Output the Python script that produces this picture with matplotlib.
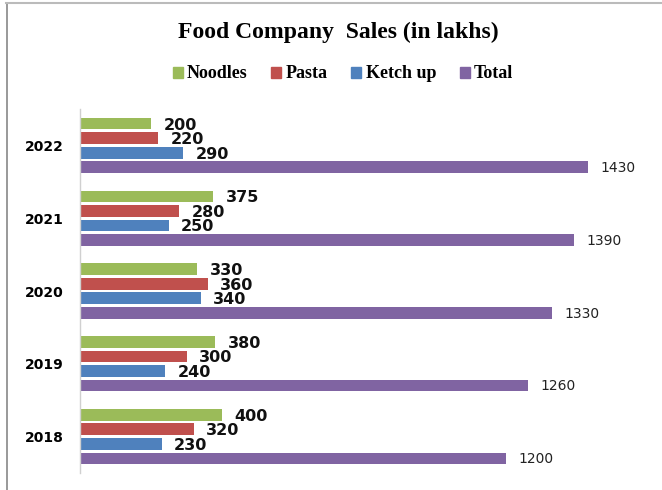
import matplotlib
matplotlib.use("Agg")
import matplotlib.pyplot as plt
from matplotlib.lines import Line2D
from matplotlib.patches import Patch
import numpy as np

years = ["2018", "2019", "2020", "2021", "2022"]
series = ["Noodles", "Pasta", "Ketch up", "Total"]
noodles = [400, 380, 330, 375, 200]
pasta = [320, 300, 360, 280, 220]
ketchup = [230, 240, 340, 250, 290]
total = [1200, 1260, 1330, 1390, 1430]
colors = ["#9BBB59", "#C0504D", "#4F81BD", "#8064A2"]

W, H = 662, 490
fig = plt.figure(figsize=(W / 100, H / 100), dpi=100)

# axes placement in pixels
ax_left, ax_right = 80, 650
ax_top, ax_bottom = 109, 473
ax = fig.add_axes([ax_left / W, 1 - ax_bottom / H, (ax_right - ax_left) / W, (ax_bottom - ax_top) / H])

px_per_unit = 0.3552
ax.set_xlim(0, (ax_right - ax_left) / px_per_unit)
ax.set_ylim(-0.5, 4.5)

y = np.arange(len(years))
slot = 0.2
bh = 0.16
data = [noodles, pasta, ketchup, total]
offsets = [1.5, 0.5, -0.5, -1.5]
for vals, off, col, name in zip(data, offsets, colors, series):
    pos = y + off * slot
    ax.barh(pos, vals, height=bh, color=col, label=name)
    for p, v in zip(pos, vals):
        if name == "Total":
            ax.text(v + 35, p - 0.01, str(v), va="center", ha="left",
                    fontsize=10, color="#222222", family="DejaVu Sans")
        else:
            ax.text(v + 35, p - 0.02, str(v), va="center", ha="left",
                    fontsize=11.5, fontweight="bold", color="#111111", family="DejaVu Sans")

ax.set_yticks(y)
ax.set_yticklabels(years, fontsize=10, fontweight="bold", family="DejaVu Sans")
ax.tick_params(axis="y", length=0, pad=12)
ax.set_xticks([])
for s in ["top", "right", "bottom"]:
    ax.spines[s].set_visible(False)
ax.spines["left"].set_color("#d0d0d0")
ax.spines["left"].set_linewidth(1.0)

fig.text(338 / W, 1 - 32 / H, "Food Company  Sales (in lakhs)", ha="center", va="center",
         fontsize=17, fontweight="bold", family="Liberation Serif")

handles = [Patch(facecolor=c, edgecolor=c) for c in colors]
fig.legend(handles, series, loc="center", bbox_to_anchor=(343 / W, 1 - 74 / H), ncol=4,
           frameon=False, prop={"family": "Liberation Serif", "weight": "bold", "size": 13},
           handlelength=0.55, handleheight=0.55, handletextpad=0.25, columnspacing=1.3)

# outer frame lines (left and top)
fig.add_artist(Line2D([6.5 / W, 6.5 / W], [0, 1 - 3 / H], color="#888888", lw=1.2, transform=fig.transFigure))
fig.add_artist(Line2D([6 / W, 1], [1 - 3 / H, 1 - 3 / H], color="#bbbbbb", lw=1.5, transform=fig.transFigure))

fig.savefig("out.png", dpi=100)
